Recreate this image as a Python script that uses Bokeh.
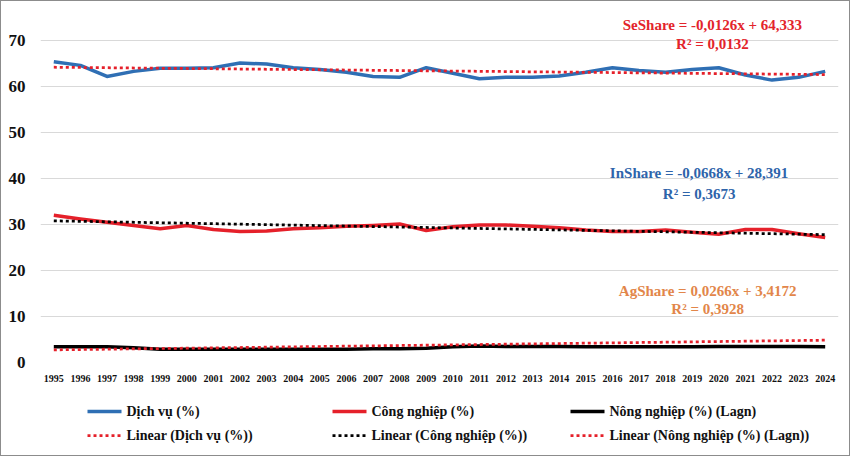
from bokeh.plotting import figure
from bokeh.layouts import column
from bokeh.models import Range1d, FixedTicker, Label
from bokeh.core.properties import value
from bokeh.embed import file_html
from bokeh.resources import INLINE

# Shares of GDP by sector, 1995-2024 (%)
years = list(range(1995, 2025))
dich_vu = [65.4, 64.6, 62.2, 63.3, 64.0, 64.0, 64.1, 65.1, 64.9, 64.1,
           63.7, 63.1, 62.2, 62.0, 64.1, 62.9, 61.7, 62.0, 62.0, 62.3,
           63.1, 64.1, 63.5, 63.1, 63.7, 64.1, 62.5, 61.4, 62.0, 63.3]
cong_nghiep = [32.0, 31.2, 30.5, 29.8, 29.1, 29.8, 28.9, 28.5, 28.6, 29.1,
               29.3, 29.6, 29.8, 30.1, 28.7, 29.5, 29.9, 29.9, 29.6, 29.3,
               28.8, 28.5, 28.5, 28.8, 28.3, 27.9, 28.9, 28.9, 28.0, 27.2]
nong_nghiep = [3.4, 3.4, 3.4, 3.2, 2.9, 2.9, 2.9, 2.9, 2.9, 2.9,
               2.9, 2.9, 3.0, 3.0, 3.1, 3.4, 3.6, 3.5, 3.5, 3.5,
               3.4, 3.4, 3.4, 3.4, 3.4, 3.5, 3.5, 3.5, 3.5, 3.4]

# Linear trend lines (start / end year values)
trend_years = [1995, 2024]
trend_dich_vu = [64.2, 62.6]
trend_cong_nghiep = [30.8, 27.8]
trend_nong_nghiep = [2.75, 4.85]

y_ticks = [0, 10, 20, 30, 40, 50, 60, 70]

eq_se = ["SeShare = -0,0126x + 64,333", "R² = 0,0132"]
eq_in = ["InShare = -0,0668x + 28,391", "R² = 0,3673"]
eq_ag = ["AgShare = 0,0266x + 3,4172", "R² = 0,3928"]

legend_labels = ["Dịch vụ (%)", "Công nghiệp (%)", "Nông nghiệp (%) (Lagn)",
                 "Linear (Dịch vụ (%))", "Linear (Công nghiệp (%))",
                 "Linear (Nông nghiệp (%) (Lagn))"]

FONT = "Liberation Serif"
BLUE = "#2f6fb4"
RED = "#e5202a"
BLACK = "#000000"
SOLID = dict(line_width=3.5, line_join="round")
DOTTED = dict(line_width=2.75, line_dash="3 3")

# ---- main chart -------------------------------------------------------
p = figure(width=848, height=394, output_backend="svg", toolbar_location=None,
           x_range=Range1d(1994.5, 2024.5), y_range=Range1d(0, 76.1),
           min_border_left=39, min_border_right=11, min_border_top=11,
           min_border_bottom=33, background_fill_color="white",
           border_fill_color="white")
p.outline_line_color = None

p.xgrid.grid_line_color = None
p.ygrid.grid_line_color = "#d9d9d9"
p.ygrid.grid_line_width = 1.2

p.yaxis.ticker = FixedTicker(ticks=y_ticks)
p.xaxis.ticker = FixedTicker(ticks=years)
for ax in (p.xaxis[0], p.yaxis[0]):
    ax.axis_line_color = None
    ax.major_tick_line_color = None
    ax.minor_tick_line_color = None
    ax.major_label_text_font = FONT
    ax.major_label_text_font_style = "bold"
    ax.major_label_text_color = "#111111"
p.yaxis.major_label_text_font_size = "17px"
p.yaxis.major_label_standoff = 9
p.xaxis.major_label_text_font_size = "10px"
p.xaxis.major_label_standoff = 6

p.line(years, dich_vu, line_color=BLUE, **SOLID)
p.line(years, cong_nghiep, line_color=RED, **SOLID)
p.line(years, nong_nghiep, line_color=BLACK, **SOLID)

p.line(trend_years, trend_dich_vu, line_color=RED, **DOTTED)
p.line(trend_years, trend_cong_nghiep, line_color=BLACK, **DOTTED)
p.line(trend_years, trend_nong_nghiep, line_color=RED, **DOTTED)

def add_eq(lines, x, ys, color):
    for txt, y in zip(lines, ys):
        p.add_layout(Label(x=x, y=y, text=txt, text_align="center",
                           text_baseline="middle", text_font=FONT,
                           text_font_style="bold", text_font_size="15px",
                           text_color=color))

add_eq(eq_se, 2019.76, [73.3, 69.3], "#e3242b")
add_eq(eq_in, 2019.26, [41.1, 36.7], "#2e64aa")
add_eq(eq_ag, 2019.58, [15.6, 11.7], "#e2864a")

# ---- legend strip (page-pixel coordinates; frame shares the chart's x span)
lg = figure(width=848, height=60, output_backend="svg", toolbar_location=None,
            x_range=Range1d(40, 838), y_range=Range1d(0, 60),
            min_border_left=39, min_border_right=11, min_border_top=0,
            min_border_bottom=0, background_fill_color="white",
            border_fill_color="white")
lg.axis.visible = False
lg.grid.visible = False
lg.outline_line_color = None

col_x = [87, 332, 570]          # left end of each swatch
row_y = [44, 20]                # row centres
swatch_w = 34
styles = [(BLUE, SOLID), (RED, SOLID), (BLACK, SOLID),
          (RED, DOTTED), (BLACK, DOTTED), (RED, DOTTED)]

for i, (label, (color, st)) in enumerate(zip(legend_labels, styles)):
    cx = col_x[i % 3]
    cy = row_y[i // 3]
    lg.line([cx, cx + swatch_w], [cy, cy], line_color=color, **st)
    lg.text([cx + swatch_w + 5], [cy], text=[label],
            text_font=value(FONT), text_font_style="bold",
            text_font_size="14px", text_color="#111111",
            text_baseline="middle", text_align="left")

layout = column(p, lg, spacing=0)
layout.styles = {"border": "1px solid #8c8c8c"}

open("out.html", "w").write(file_html(layout, INLINE))
